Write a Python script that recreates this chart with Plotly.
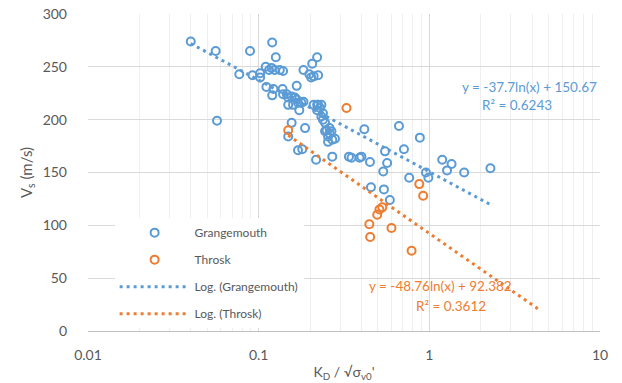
import plotly.graph_objects as go
import numpy as np

# Grangemouth data (KD / sqrt(sigma_v0'), Vs)
grange_x = [0.040, 0.056, 0.057, 0.077, 0.089, 0.092, 0.102, 0.102, 0.110, 0.111,
            0.115, 0.119, 0.120, 0.120, 0.122, 0.124, 0.126, 0.133, 0.138, 0.139,
            0.139, 0.146, 0.149, 0.149, 0.149, 0.156, 0.156, 0.159, 0.163, 0.167,
            0.167, 0.170, 0.170, 0.173, 0.178, 0.180, 0.183, 0.183, 0.187, 0.198,
            0.203, 0.206, 0.210, 0.210, 0.217, 0.220, 0.220, 0.220, 0.223, 0.223,
            0.229, 0.233, 0.233, 0.238, 0.238, 0.245, 0.245, 0.250, 0.260, 0.260,
            0.255, 0.255, 0.270, 0.267, 0.280, 0.270, 0.338, 0.350, 0.390, 0.400,
            0.416, 0.449, 0.455, 0.537, 0.542, 0.550, 0.566, 0.587, 0.664, 0.710,
            0.762, 0.880, 0.955, 0.987, 1.19, 1.27, 1.35, 1.60, 2.28]
grange_y = [274, 265, 199, 243, 265, 242, 244, 240, 250, 231,
            247, 249, 273, 223, 229, 247, 259, 247, 229, 246,
            224, 224, 221, 214, 184, 222, 197, 214, 221, 232,
            219, 216, 171, 209, 216, 172, 247, 217, 192, 243,
            240, 253, 241, 214, 162, 259, 214, 209, 242, 214,
            211, 214, 203, 206, 200, 197, 189, 190, 192, 187,
            184, 179, 181, 189, 182, 165, 165, 164, 164, 165,
            191, 160, 136, 151, 134, 170, 159, 124, 194, 172,
            145, 183, 150, 145, 162, 152, 158, 150, 154]

# Throsk data
throsk_x = [0.149, 0.327, 0.445, 0.450, 0.495, 0.510, 0.530, 0.600, 0.787, 0.873, 0.920]
throsk_y = [190, 211, 101, 89, 110, 115, 117, 97.5, 76, 139, 128]

# Logarithmic trendline coefficients (y = a ln(x) + b)
g_a, g_b = -37.7, 150.67
t_a, t_b = -48.76, 92.382
g_range = [0.040, 2.28]
t_range = [0.149, 4.32]

blue = "#5B9BD5"
orange = "#ED7D31"
font_family = "Lato, 'Open Sans', sans-serif"

fig = go.Figure()

fig.add_trace(go.Scatter(
    x=grange_x, y=grange_y, mode="markers", name="Grangemouth", legendgroup="g1",
    marker=dict(symbol="circle-open", size=8, color=blue, line=dict(width=2, color=blue))))
fig.add_trace(go.Scatter(
    x=throsk_x, y=throsk_y, mode="markers", name="Throsk", legendgroup="g2",
    marker=dict(symbol="circle-open", size=8, color=orange, line=dict(width=2, color=orange))))

gx = np.array(g_range)
tx = np.array(t_range)
fig.add_trace(go.Scatter(
    x=gx, y=g_a * np.log(gx) + g_b, mode="lines", name="Log. (Grangemouth)", legendgroup="g3",
    line=dict(color=blue, width=3, dash="3px,4px")))
fig.add_trace(go.Scatter(
    x=tx, y=t_a * np.log(tx) + t_b, mode="lines", name="Log. (Throsk)", legendgroup="g4",
    line=dict(color=orange, width=3, dash="3px,4px")))

ann_size = 13.5
fig.add_annotation(x=0.727, y=0.771, xref="paper", yref="paper", xanchor="left", yanchor="middle",
                   text="y = -37.7ln(x) + 150.67", showarrow=False,
                   font=dict(family=font_family, size=ann_size, color=blue))
fig.add_annotation(x=0.766, y=0.714, xref="paper", yref="paper", xanchor="left", yanchor="middle",
                   text="R² = 0.6243", showarrow=False,
                   font=dict(family=font_family, size=ann_size, color=blue))
fig.add_annotation(x=0.545, y=0.143, xref="paper", yref="paper", xanchor="left", yanchor="middle",
                   text="y = -48.76ln(x) + 92.382", showarrow=False,
                   font=dict(family=font_family, size=ann_size, color=orange))
fig.add_annotation(x=0.637, y=0.079, xref="paper", yref="paper", xanchor="left", yanchor="middle",
                   text="R² = 0.3612", showarrow=False,
                   font=dict(family=font_family, size=ann_size, color=orange))

fig.update_layout(
    width=622, height=383,
    margin=dict(l=88, r=22, t=14, b=52),
    paper_bgcolor="white", plot_bgcolor="white",
    font=dict(family=font_family, size=14, color="#595959"),
    showlegend=True,
    legend=dict(x=0.052, y=0.356, xanchor="left", yanchor="top", bgcolor="white",
                font=dict(size=12, color="#595959"), itemwidth=70, tracegroupgap=8),
    xaxis=dict(type="log", range=[-2, 1], dtick=1, showgrid=True, gridcolor="#d9d9d9",
               gridwidth=1, showline=True, linecolor="#bfbfbf", linewidth=1,
               ticks="", tickfont=dict(size=14, color="#595959"), ticklabelstandoff=11,
               tickvals=[0.01, 0.1, 1, 10], ticktext=["0.01", "0.1", "1", "10"],
               minor=dict(showgrid=True, gridcolor="#efefef", gridwidth=1, dtick="D1"),
               title=dict(text="K<sub>D</sub> / √σ<sub>v0</sub>'", font=dict(size=14, color="#595959"),
                          standoff=5),
               automargin=False, zeroline=False),
    yaxis=dict(range=[0, 300], dtick=50, showgrid=True, gridcolor="#d9d9d9", gridwidth=1,
               showline=False, ticks="", zeroline=False, ticklabelstandoff=20,
               tickfont=dict(size=14, color="#595959"),
               title=dict(text="V<sub>s</sub> (m/s)", font=dict(size=15, color="#595959"),
                          standoff=6),
               automargin=False),
)

fig.write_html("out.html")
